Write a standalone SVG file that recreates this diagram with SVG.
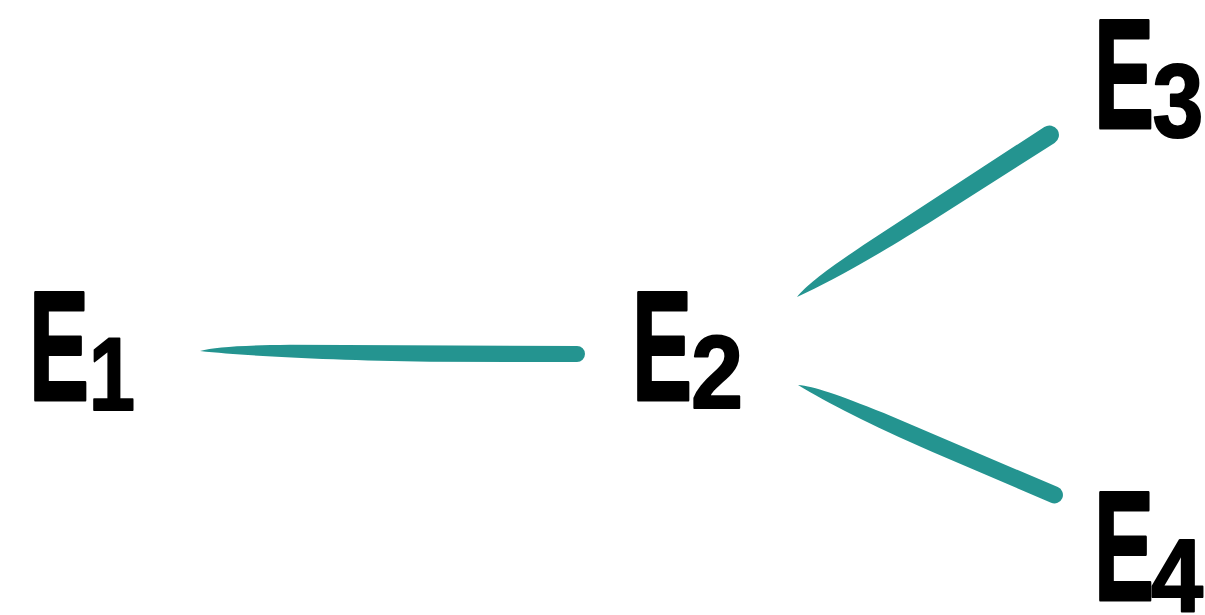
<svg xmlns="http://www.w3.org/2000/svg" width="1205" height="615" viewBox="0 0 1205 615">
  <style>
    .big { font-family: "Liberation Sans", Arial, sans-serif; font-weight: bold; font-size: 155px; fill: #000; text-anchor: middle; stroke: #000; stroke-width: 3; stroke-linejoin: round; }
    .dig { font-family: "Liberation Sans", Arial, sans-serif; font-weight: bold; font-size: 104px; fill: #000; text-anchor: middle; stroke: #000; stroke-width: 2; stroke-linejoin: round; }
    .brush { fill: #249490; }
  </style>
  <rect width="1205" height="615" fill="#ffffff"/>
  <g id="connectors">
    <path class="brush" transform="translate(200,351) rotate(0.45)" d="M0,0 C15,-4 40,-6 90,-7 L377,-8 A8,8 0 0 1 377,8 L230,9 C130,8 50,5 0,0 Z"/>
    <path class="brush" transform="translate(797,297) rotate(-32.7)" d="M0,0 C15,-5 40,-7 90,-8 L300,-9.5 A9.5,9.5 0 0 1 300,9.5 L150,9 C80,8 35,5 0,0 Z"/>
    <path class="brush" transform="translate(798,385) rotate(23.2)" d="M0,0 C15,-5 40,-7 90,-8 L279,-8.5 A8.5,8.5 0 0 1 279,8.5 L150,8.5 C80,8 35,5 0,0 Z"/>
  </g>
  <g id="E1">
    <text class="big" transform="translate(59,400) scale(0.58,1)" x="0" y="0">E</text>
    <text class="dig" transform="translate(112,410) scale(0.8,1)" x="0" y="0">1</text>
  </g>
  <g id="E2">
    <text class="big" transform="translate(662,400) scale(0.58,1)" x="0" y="0">E</text>
    <text class="dig" transform="translate(717,408) scale(0.9,1)" x="0" y="0">2</text>
  </g>
  <g id="E3">
    <text class="big" transform="translate(1124,128) scale(0.58,1)" x="0" y="0">E</text>
    <text class="dig" transform="translate(1178,137) scale(0.88,1)" x="0" y="0">3</text>
  </g>
  <g id="E4">
    <text class="big" transform="translate(1124,600) scale(0.58,1)" x="0" y="0">E</text>
    <text class="dig" transform="translate(1177,612) scale(0.9,1)" x="0" y="0">4</text>
  </g>
</svg>
